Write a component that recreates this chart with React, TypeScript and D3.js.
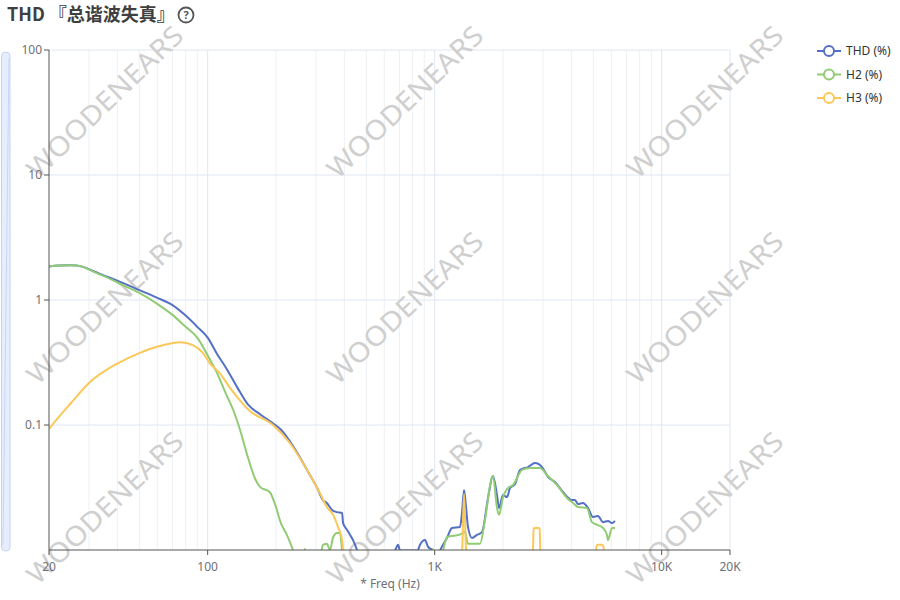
import React, { useEffect, useRef } from 'react';
import * as d3 from 'd3';

// x axis ticks / y axis ticks
const xTicks = [20, 100, 1000, 10000, 20000];
const xTickLabels = ['20', '100', '1K', '10K', '20K'];
const yTicks = [100, 10, 1, 0.1];
const yTickLabels = ['100', '10', '1', '0.1'];

const seriesNames = ['THD (%)', 'H2 (%)', 'H3 (%)'];
const seriesColors = ['#5470c6', '#91cc75', '#fac858'];

// THD (%)
const thdFreq = [
  20, 22, 25, 28, 31, 34, 40, 50, 60, 70,
  80, 90, 100, 110, 120, 135, 150, 170, 190, 210,
  240, 274, 303, 322, 335, 353, 371, 391, 395, 411,
  424, 437, 446, 455, 475,
  640, 670, 690, 704, 779, 840, 862, 907, 935, 983, 1010, 1056,
  1133, 1192, 1293, 1320, 1347, 1375, 1402, 1460, 1536, 1616,
  1718, 1807, 1882, 1921, 2000, 2083, 2148, 2260, 2376, 2577,
  2768, 2972, 3156, 3390, 3676, 4028, 4152, 4280, 4502, 4736,
  4982, 5242, 5514, 5802, 6042, 6228,
];
const thdValue = [
  1.85, 1.89, 1.9, 1.85, 1.72, 1.6, 1.43, 1.2, 1.04, 0.91,
  0.75, 0.61, 0.5, 0.37, 0.29, 0.2, 0.147, 0.122, 0.106, 0.092,
  0.066, 0.0437, 0.0316, 0.0251, 0.0238, 0.0209, 0.0201, 0.0198, 0.0164, 0.0145,
  0.0132, 0.012, 0.011, 0.01, 0.008,
  0.008, 0.0099, 0.011, 0.0099, 0.0099, 0.0099, 0.011, 0.012, 0.0106, 0.0099, 0.008, 0.0099,
  0.0125, 0.015, 0.0153, 0.02, 0.0302, 0.022, 0.0153, 0.0125, 0.0132, 0.0139,
  0.0261, 0.0391, 0.0275, 0.0217, 0.0275, 0.0265, 0.0313, 0.0337, 0.0437, 0.0461,
  0.0497, 0.0461, 0.0384, 0.035, 0.0291, 0.0251, 0.0251, 0.0233, 0.0238, 0.0217,
  0.0184, 0.0187, 0.0167, 0.0171, 0.0164, 0.0171,
];

// H2 (%)
const h2Freq = [
  20, 22, 25, 28, 31, 35, 40, 50, 60, 70,
  80, 90, 100, 110, 120, 130, 140, 150, 162, 170,
  188, 200, 210, 222, 232, 240, 250,
  262, 268, 274,
  310, 322, 335, 346, 357, 371, 383, 391, 398,
  960, 980, 1000,
  1088, 1133, 1267, 1320, 1360, 1402, 1431, 1584, 1660, 1789,
  1807, 1882, 1921, 2000, 2104, 2214, 2426, 2630, 2912, 3124,
  3458, 3828, 4068, 4280, 4688, 4932, 5242, 5514, 5742, 5802,
  6042, 6228,
];
const h2Value = [
  1.85, 1.89, 1.9, 1.85, 1.7, 1.55, 1.38, 1.14, 0.93, 0.76,
  0.61, 0.5, 0.36, 0.26, 0.18, 0.13, 0.087, 0.056, 0.037, 0.032,
  0.029, 0.022, 0.0165, 0.0135, 0.0112, 0.0095, 0.008,
  0.008, 0.0102, 0.008,
  0.008, 0.011, 0.0112, 0.01, 0.0127, 0.0137, 0.0137, 0.0099, 0.008,
  0.008, 0.0102, 0.008,
  0.0099, 0.0127, 0.0132, 0.0135, 0.014, 0.0112, 0.0112, 0.0112, 0.0167, 0.0384,
  0.0391, 0.0217, 0.0191, 0.0265, 0.0313, 0.0331, 0.0437, 0.0453, 0.0453, 0.0398,
  0.0331, 0.0261, 0.0238, 0.0221, 0.0217, 0.0167, 0.0158, 0.015, 0.0132, 0.012,
  0.015, 0.015,
];

// H3 (%)
const h3Freq = [
  20, 22, 25, 30, 40, 50, 64, 76, 86, 95,
  102, 113, 125, 153, 194, 230, 274, 312, 335, 357,
  375, 391, 395, 410,
  1305, 1322, 1347, 1375, 1395,
  2700, 2730, 2760, 2870, 2900, 2930,
  5100, 5170, 5250, 5450, 5530, 5600,
];
const h3Value = [
  0.093, 0.115, 0.15, 0.217, 0.31, 0.376, 0.436, 0.46, 0.436, 0.38,
  0.313, 0.26, 0.2, 0.13, 0.1, 0.072, 0.0437, 0.0286, 0.0221, 0.0191,
  0.0153, 0.012, 0.01, 0.008,
  0.008, 0.0101, 0.028, 0.0101, 0.008,
  0.008, 0.0148, 0.015, 0.015, 0.0148, 0.008,
  0.008, 0.0108, 0.011, 0.011, 0.0108, 0.008,
];

const App: React.FC = () => {
  const svgRef = useRef<SVGSVGElement | null>(null);

  useEffect(() => {
    const width = 900;
    const height = 600;
    const left = 49;
    const right = 730;
    const top = 50;
    const bottom = 550;
    const labelFont = '"Noto Sans", "DejaVu Sans", sans-serif';

    const svg = d3.select(svgRef.current);
    svg.selectAll('*').remove();
    svg.attr('width', width).attr('height', height);

    svg.append('rect').attr('width', width).attr('height', height).attr('fill', '#fff');

    const x = d3.scaleLog().domain([20, 20000]).range([left, right]);
    const y = d3.scaleLog().domain([0.01, 100]).range([bottom, top]);

    // title
    svg.append('text')
      .attr('x', 7)
      .attr('y', 21)
      .style('font-family', '"Noto Sans CJK SC", "Noto Sans", sans-serif')
      .style('font-weight', 'bold')
      .style('font-size', '18px')
      .attr('fill', '#3f3f3f')
      .text('THD 『总谐波失真』');

    const help = svg.append('g').attr('transform', 'translate(186,15)');
    help.append('circle').attr('r', 7.5).attr('fill', 'none').attr('stroke', '#555').attr('stroke-width', 1.8);
    help.append('text')
      .attr('text-anchor', 'middle')
      .attr('dy', '0.37em')
      .style('font-family', labelFont)
      .style('font-weight', 'bold')
      .style('font-size', '11px')
      .attr('fill', '#555')
      .text('?');

    // dataZoom slider on the left
    svg.append('rect')
      .attr('x', 1.5).attr('y', 52).attr('width', 8.5).attr('height', 499).attr('rx', 4)
      .attr('fill', '#e6eefd').attr('stroke', '#c3d3f6').attr('stroke-width', 1);
    svg.append('line')
      .attr('x1', 3).attr('y1', 545).attr('x2', 9).attr('y2', 58)
      .attr('stroke', '#c6d6f7').attr('stroke-width', 1);

    // minor vertical grid
    const minor: number[] = [];
    [10, 100, 1000].forEach(d => {
      for (let m = 2; m <= 9; m++) {
        const v = m * d;
        if (v > 20 && v < 20000 && !xTicks.includes(v)) minor.push(v);
      }
    });
    svg.append('g').selectAll('line').data(minor).enter().append('line')
      .attr('x1', d => x(d)).attr('x2', d => x(d))
      .attr('y1', top).attr('y2', bottom)
      .attr('stroke', '#eef0f5').attr('stroke-width', 1);

    // major grid
    svg.append('g').selectAll('line').data(xTicks.slice(1)).enter().append('line')
      .attr('x1', d => x(d)).attr('x2', d => x(d))
      .attr('y1', top).attr('y2', bottom)
      .attr('stroke', '#e0e6f1').attr('stroke-width', 1);
    svg.append('g').selectAll('line').data(yTicks).enter().append('line')
      .attr('x1', left).attr('x2', right)
      .attr('y1', d => y(d)).attr('y2', d => y(d))
      .attr('stroke', '#e0e6f1').attr('stroke-width', 1);

    // watermark
    const wm = svg.append('g');
    [102, 308, 508].forEach(cy => {
      [105, 405, 705].forEach(cx => {
        wm.append('text')
          .attr('transform', `translate(${cx},${cy}) rotate(-44)`)
          .attr('text-anchor', 'middle')
          .attr('dy', '0.35em')
          .attr('textLength', 205)
          .attr('lengthAdjust', 'spacingAndGlyphs')
          .style('font-family', labelFont)
          .style('font-size', '27px')
          .attr('fill', '#cfcfcf')
          .text('WOODENEARS');
      });
    });

    // series
    svg.append('defs').append('clipPath').attr('id', 'plot-clip')
      .append('rect').attr('x', left).attr('y', top - 2).attr('width', right - left).attr('height', bottom - top + 2);

    const series = [
      { f: thdFreq, v: thdValue },
      { f: h2Freq, v: h2Value },
      { f: h3Freq, v: h3Value },
    ];
    const line = d3.line<[number, number]>()
      .x(d => x(d[0]))
      .y(d => y(d[1]))
      .curve(d3.curveMonotoneX);

    const plot = svg.append('g').attr('clip-path', 'url(#plot-clip)');
    series.forEach((s, i) => {
      const pts = s.f.map((f, j) => [f, s.v[j]] as [number, number]);
      plot.append('path')
        .attr('d', line(pts))
        .attr('fill', 'none')
        .attr('stroke', seriesColors[i])
        .attr('stroke-width', 2)
        .attr('stroke-linejoin', 'round');
    });

    // axes
    const axisColor = '#555';
    svg.append('line').attr('x1', left).attr('x2', left).attr('y1', top).attr('y2', bottom)
      .attr('stroke', axisColor).attr('stroke-width', 1);
    svg.append('line').attr('x1', left).attr('x2', right).attr('y1', bottom).attr('y2', bottom)
      .attr('stroke', axisColor).attr('stroke-width', 1);

    svg.append('g').selectAll('line').data(yTicks).enter().append('line')
      .attr('x1', left - 5).attr('x2', left)
      .attr('y1', d => y(d)).attr('y2', d => y(d))
      .attr('stroke', axisColor);
    svg.append('g').selectAll('text').data(yTicks).enter().append('text')
      .attr('x', left - 7)
      .attr('y', d => y(d))
      .attr('dy', '0.35em')
      .attr('text-anchor', 'end')
      .style('font-family', labelFont)
      .style('font-size', '12px')
      .attr('fill', '#6e7079')
      .text((d, i) => yTickLabels[i]);

    svg.append('g').selectAll('line').data(xTicks).enter().append('line')
      .attr('x1', d => x(d)).attr('x2', d => x(d))
      .attr('y1', bottom).attr('y2', bottom + 5)
      .attr('stroke', axisColor);
    svg.append('g').selectAll('text').data(xTicks).enter().append('text')
      .attr('x', d => x(d))
      .attr('y', bottom + 12)
      .attr('dy', '0.71em')
      .attr('text-anchor', 'middle')
      .style('font-family', labelFont)
      .style('font-size', '12px')
      .attr('fill', '#6e7079')
      .text((d, i) => xTickLabels[i]);

    svg.append('text')
      .attr('x', 390)
      .attr('y', 584)
      .attr('dy', '0.35em')
      .attr('text-anchor', 'middle')
      .style('font-family', labelFont)
      .style('font-size', '12px')
      .attr('fill', '#6e7079')
      .text('* Freq (Hz)');

    // legend
    const legend = svg.append('g');
    seriesNames.forEach((name, i) => {
      const ly = 51 + i * 23.5;
      const g = legend.append('g').attr('transform', `translate(817,${ly})`);
      g.append('line').attr('x1', 0).attr('x2', 24).attr('y1', 0).attr('y2', 0)
        .attr('stroke', seriesColors[i]).attr('stroke-width', 2);
      g.append('circle').attr('cx', 12).attr('cy', 0).attr('r', 5)
        .attr('fill', '#fff').attr('stroke', seriesColors[i]).attr('stroke-width', 2);
      g.append('text')
        .attr('x', 29).attr('y', 0).attr('dy', '0.35em')
        .style('font-family', labelFont)
        .style('font-size', '12px')
        .attr('fill', '#333')
        .text(name);
    });
  }, []);

  return <svg ref={svgRef} style={{ position: 'absolute', left: 0, top: 0, display: 'block' }}></svg>;
};

export default App;
